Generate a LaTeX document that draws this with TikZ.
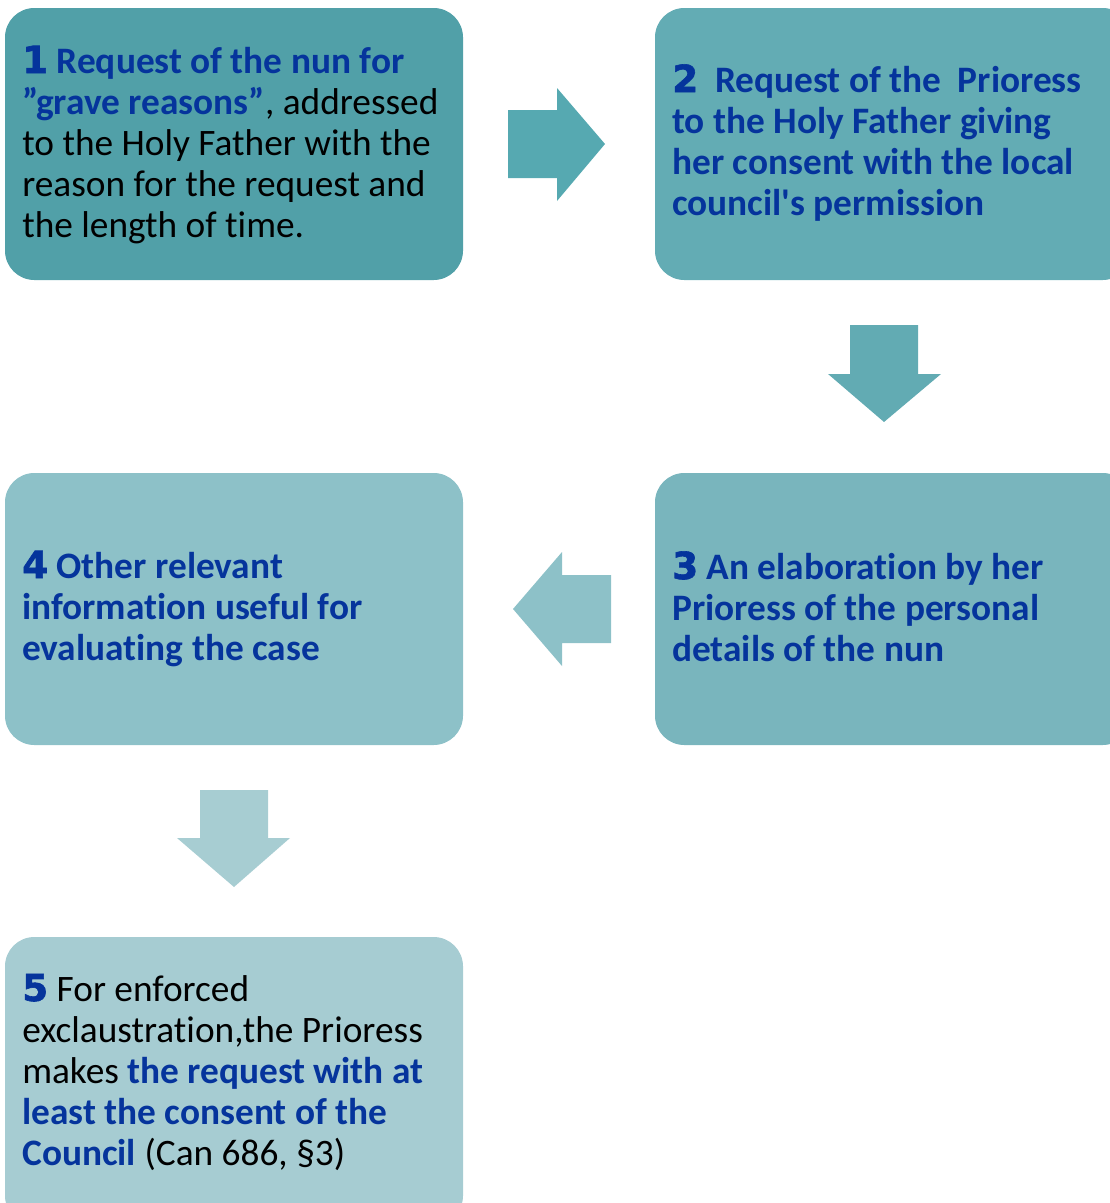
\documentclass[tikz,border=0pt]{standalone}
\usepackage{fontspec}
\setmainfont{Carlito}[Ligatures={TeX,NoCommon}]
\newfontfamily\aposfont{Carlito}[Ligatures={TeXOff,NoCommon}]
\newfontfamily\numfont{DejaVu Sans}[BoldFeatures={FakeBold=1.6}]
\definecolor{cboxa}{HTML}{51A0A8}
\definecolor{cboxb}{HTML}{63ACB4}
\definecolor{cboxc}{HTML}{79B5BD}
\definecolor{cboxd}{HTML}{8DC1C8}
\definecolor{cboxe}{HTML}{A6CCD2}
\definecolor{carra}{HTML}{56A9B1}
\definecolor{carrb}{HTML}{62ABB3}
\definecolor{carrc}{HTML}{8DC1C8}
\definecolor{carrd}{HTML}{A7CDD2}
\definecolor{tblue}{HTML}{05349C}
\newcommand{\nb}[1]{{\numfont\bfseries\color{tblue}#1}}
\newcommand{\bb}[1]{{\bfseries\color{tblue}#1}}
\tikzset{
  boxshape/.style={rounded corners=22},
  txt/.style={anchor=base west, inner sep=0pt, align=left, font=\fontsize{28}{30.75}\selectfont}
}
\begin{document}
\begin{tikzpicture}[x=0.75pt,y=-0.75pt]
\useasboundingbox (0,0) rectangle (1110,1203);
\clip (0,0) rectangle (1110,1203);
% boxes
\fill[cboxa,boxshape] (5,8) rectangle (463,280);
\fill[cboxb,boxshape] (655,8) rectangle (1132,280);
\fill[cboxc,boxshape] (655,473) rectangle (1132,745);
\fill[cboxd,boxshape] (5,473) rectangle (463,745);
\fill[cboxe,boxshape] (5,937) rectangle (463,1225);
% arrows
\fill[carra] (508,110) -- (557,110) -- (557,88) -- (605,144) -- (557,201) -- (557,178) -- (508,178) -- cycle;
\fill[carrb] (850,325) -- (918,325) -- (918,374) -- (941,374) -- (884,422) -- (828,374) -- (850,374) -- cycle;
\fill[carrc] (611,575) -- (562,575) -- (562,552) -- (513,609) -- (562,666) -- (562,643) -- (611,643) -- cycle;
\fill[carrd] (200,790) -- (268,790) -- (268,838) -- (290,838) -- (234,887) -- (177,838) -- (200,838) -- cycle;
% texts (anchored at last baseline)
\node[txt] (t1) at (22,237) {\nb{1} \bb{Request of the nun for}\\\bb{”grave reasons”}, addressed\\to the Holy Father with the\\reason for the request and\\the length of time.};
\node[txt] (t2) at (672,215) {\nb{2}\hspace{0.45em}\bb{Request of the\hspace{0.45em}Prioress}\\\bb{to the Holy Father giving}\\\bb{her consent with the local}\\\bb{council{\aposfont'}s permission}};
\node[txt] (t3) at (672,661) {\nb{3} \bb{An elaboration by her}\\\bb{Prioress of the personal}\\\bb{details of the nun}};
\node[txt] (t4) at (22,660) {\nb{4} \bb{Other relevant}\\\bb{information useful for}\\\bb{evaluating the case}};
\node[txt] (t5) at (22,1165) {\nb{5} For enforced\\exclaustration,the Prioress\\makes \bb{the request with at}\\\bb{least the consent of the}\\\bb{Council} (Can 686, §3)};
\end{tikzpicture}
\end{document}
